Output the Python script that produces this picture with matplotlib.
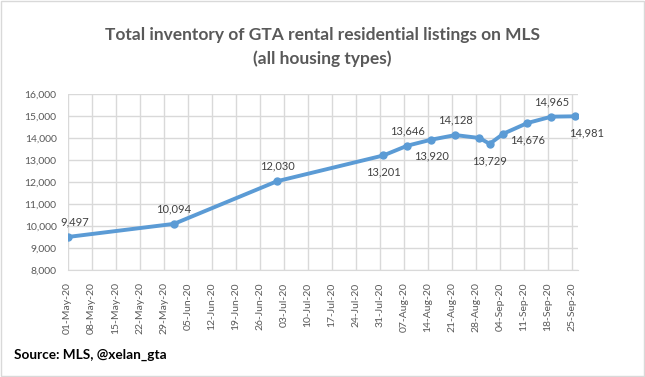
import matplotlib.pyplot as plt
import matplotlib.dates as mdates
from matplotlib.patches import Rectangle
from matplotlib.ticker import FuncFormatter
import pandas as pd

# Weekly MLS inventory counts (plus the 01-Sep reading)
dates = ['2020-05-01', '2020-06-01', '2020-07-01', '2020-08-01', '2020-08-08',
         '2020-08-15', '2020-08-22', '2020-08-29', '2020-09-01', '2020-09-05',
         '2020-09-12', '2020-09-19', '2020-09-26']
listings = [9497, 10094, 12030, 13201, 13646, 13920, 14128, 13995, 13729, 14190,
            14676, 14965, 14981]
# where each value label sits: 'a' above, 'b' below, '' no label
label_pos = ['a', 'a', 'a', 'b', 'a', 'b', 'a', '', 'b', '', 'b', 'a', 'b']

x = pd.to_datetime(dates)

plt.rcParams['font.family'] = ['Lato', 'DejaVu Sans']
gray = '#595959'
blue = '#5B9BD5'

fig = plt.figure(figsize=(6.45, 3.77), dpi=100)
ax = fig.add_axes([0.105, 0.284, 0.7907, 0.467])

ax.plot(x, listings, color=blue, linewidth=2.8, marker='o', markersize=5,
        solid_capstyle='round', zorder=3)

for i, (d, v, p) in enumerate(zip(x, listings, label_pos)):
    if not p:
        continue
    dy = 7 if p == 'a' else -8
    dx = 0
    if i == 0:
        dx = 5
    elif i == len(x) - 1:
        dx = 8
    ax.annotate(f'{v:,}', (d, v), xytext=(dx, dy), textcoords='offset points',
                ha='center', va='bottom' if p == 'a' else 'top',
                fontsize=8, color='#404040')

ax.set_ylim(8000, 16000)
ax.set_yticks(range(8000, 16001, 1000))
ax.yaxis.set_major_formatter(FuncFormatter(lambda v, _: f'{int(v):,}'))

start = pd.Timestamp('2020-05-01')
ax.set_xlim(start, pd.Timestamp('2020-09-26 16:00'))
ax.set_xticks(pd.date_range(start, '2020-09-25', freq='7D'))
ax.xaxis.set_major_formatter(mdates.DateFormatter('%d-%b-%y'))
plt.setp(ax.get_xticklabels(), rotation=90)

ax.grid(True, color='#D9D9D9', linewidth=1)
ax.set_axisbelow(True)
for s in ['top', 'right', 'left']:
    ax.spines[s].set_visible(False)
ax.spines['bottom'].set_color('#D9D9D9')
ax.tick_params(length=0, labelsize=7.5, labelcolor=gray)
ax.tick_params(axis='x', pad=9)
ax.tick_params(axis='y', pad=8)

fig.text(0.5, 0.907, 'Total inventory of GTA rental residential listings on MLS',
         ha='center', va='center', fontsize=12.5, fontweight='bold', color=gray)
fig.text(0.5, 0.845, '(all housing types)', ha='center', va='center',
         fontsize=12.5, fontweight='bold', color=gray)
fig.text(0.021, 0.058, 'Source: MLS, @xelan_gta', ha='left', va='center',
         fontsize=9.8, fontweight='bold', color='black')

fig.patches.append(Rectangle((0.001, 0.002), 0.997, 0.995, transform=fig.transFigure,
                             fill=False, edgecolor='#D9D9D9', linewidth=1))

fig.savefig('out.png', dpi=100)
